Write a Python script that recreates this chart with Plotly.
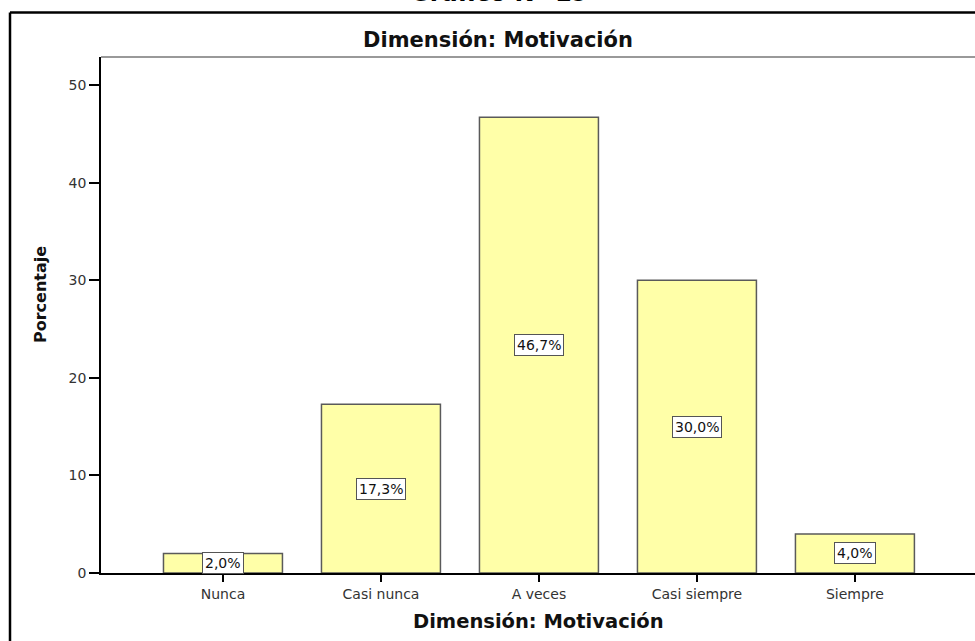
import plotly.graph_objects as go

categories = ["Nunca", "Casi nunca", "A veces", "Casi siempre", "Siempre"]
values = [2.0, 17.3, 46.7, 30.0, 4.0]
labels = ["2,0%", "17,3%", "46,7%", "30,0%", "4,0%"]
y_ticks = [0, 10, 20, 30, 40, 50]

FONT = "DejaVu Sans, Verdana, sans-serif"

# pixel geometry helpers
L, R, T, B = 101, 975, 57, 573
W, H = 975, 641


def px_x(px):
    return (px - L) / (R - L)


def px_y(py):
    return (B - py) / (B - T)


fig = go.Figure()
fig.add_trace(go.Bar(
    x=list(range(len(categories))),
    y=values,
    width=0.753,
    marker=dict(color="#FFFFA8", line=dict(color="#5a5a5a", width=1.5)),
    hoverinfo="skip",
))

annotations = []
for i, (v, lab) in enumerate(zip(values, labels)):
    annotations.append(dict(
        x=i, y=v / 2, xref="x", yref="y", text=lab, showarrow=False,
        font=dict(family=FONT, size=14, color="#111111"),
        bgcolor="white", bordercolor="#555555", borderwidth=1, borderpad=2,
    ))

annotations += [
    dict(x=px_x(498), y=px_y(40), xref="paper", yref="paper",
         text="<b>Dimensión: Motivación</b>", showarrow=False,
         font=dict(family=FONT, size=21, color="#111111"),
         xanchor="center", yanchor="middle"),
    dict(x=px_x(538), y=px_y(621), xref="paper", yref="paper",
         text="<b>Dimensión: Motivación</b>", showarrow=False,
         font=dict(family=FONT, size=19.5, color="#111111"),
         xanchor="center", yanchor="middle"),
    dict(x=px_x(40), y=px_y(295), xref="paper", yref="paper",
         text="<b>Porcentaje</b>", showarrow=False, textangle=-90,
         font=dict(family=FONT, size=16, color="#111111"),
         xanchor="center", yanchor="middle"),
    dict(x=px_x(499), y=px_y(-7), xref="paper", yref="paper",
         text="<b>Gráfico N° 19</b>", showarrow=False,
         font=dict(family=FONT, size=24, color="#000000"),
         xanchor="center", yanchor="middle"),
]

shapes = [
    # outer frame top and left
    dict(type="line", xref="paper", yref="paper", x0=px_x(10), x1=px_x(990),
         y0=px_y(12.5), y1=px_y(12.5), line=dict(color="black", width=2.5)),
    dict(type="line", xref="paper", yref="paper", x0=px_x(10), x1=px_x(10),
         y0=px_y(12.5), y1=px_y(660), line=dict(color="black", width=2.5)),
    # plot area top border (gray)
    dict(type="line", xref="paper", yref="paper", x0=0, x1=px_x(990),
         y0=1, y1=1, line=dict(color="#999999", width=2)),
]

n = len(categories)
fig.update_layout(
    width=W, height=H,
    margin=dict(l=L, r=W - R, t=T, b=H - B),
    paper_bgcolor="white", plot_bgcolor="white",
    showlegend=False,
    annotations=annotations,
    shapes=shapes,
    font=dict(family=FONT),
    xaxis=dict(
        tickmode="array", tickvals=list(range(n)), ticktext=categories,
        range=[-0.772, 4.76], showgrid=False, zeroline=False,
        showline=True, linecolor="black", linewidth=1.5,
        ticks="outside", ticklen=7, tickcolor="black", tickwidth=1.5,
        tickfont=dict(family=FONT, size=14, color="#333333"),
        fixedrange=True,
    ),
    yaxis=dict(
        tickmode="array", tickvals=y_ticks, ticktext=[str(t) for t in y_ticks],
        range=[0, 52.87], showgrid=False, zeroline=False,
        showline=True, linecolor="black", linewidth=1.5,
        ticks="outside", ticklen=10, tickcolor="black", tickwidth=1.5,
        tickfont=dict(family=FONT, size=14, color="#333333"),
        fixedrange=True,
    ),
)

fig.write_html(
    "out.html",
    config={"displayModeBar": False},
    post_script="document.body.style.margin='0';document.body.style.overflow='hidden';",
)
